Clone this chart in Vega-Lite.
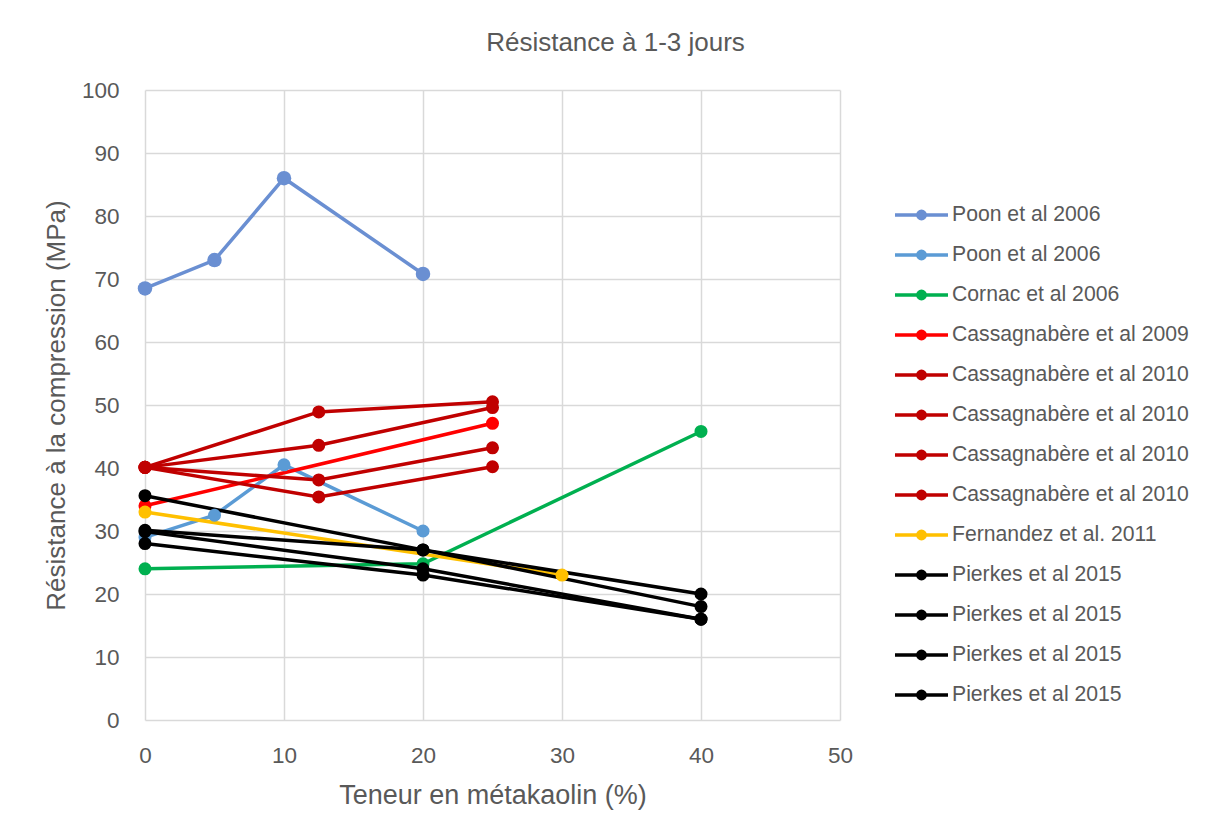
{
  "$schema": "https://vega.github.io/schema/vega-lite/v6.json",
  "width": 695,
  "height": 630,
  "autosize": "none",
  "padding": {"left": 145, "top": 90, "right": 372, "bottom": 116},
  "background": "white",
  "title": {
    "text": "Résistance à 1-3 jours",
    "font": "Liberation Sans",
    "fontSize": 26,
    "fontWeight": "normal",
    "color": "#595959",
    "anchor": "middle",
    "dx": 123,
    "offset": 23
  },
  "data": {
    "values": [
      {"s": "01 Poon et al 2006", "x": 0, "y": 68.5},
      {"s": "01 Poon et al 2006", "x": 5, "y": 73},
      {"s": "01 Poon et al 2006", "x": 10, "y": 86},
      {"s": "01 Poon et al 2006", "x": 20, "y": 70.8},
      {"s": "02 Poon et al 2006", "x": 0, "y": 29},
      {"s": "02 Poon et al 2006", "x": 5, "y": 32.5},
      {"s": "02 Poon et al 2006", "x": 10, "y": 40.5},
      {"s": "02 Poon et al 2006", "x": 20, "y": 30},
      {"s": "03 Cornac et al 2006", "x": 0, "y": 24},
      {"s": "03 Cornac et al 2006", "x": 20, "y": 24.8},
      {"s": "03 Cornac et al 2006", "x": 40, "y": 45.8},
      {"s": "04 Cassagnabère et al 2009", "x": 0, "y": 34},
      {"s": "04 Cassagnabère et al 2009", "x": 25, "y": 47.1},
      {"s": "05 Cassagnabère et al 2010", "x": 0, "y": 40.1},
      {"s": "05 Cassagnabère et al 2010", "x": 12.5, "y": 48.9},
      {"s": "05 Cassagnabère et al 2010", "x": 25, "y": 50.5},
      {"s": "06 Cassagnabère et al 2010", "x": 0, "y": 40.1},
      {"s": "06 Cassagnabère et al 2010", "x": 12.5, "y": 43.6},
      {"s": "06 Cassagnabère et al 2010", "x": 25, "y": 49.6},
      {"s": "07 Cassagnabère et al 2010", "x": 0, "y": 40.1},
      {"s": "07 Cassagnabère et al 2010", "x": 12.5, "y": 38.1},
      {"s": "07 Cassagnabère et al 2010", "x": 25, "y": 43.2},
      {"s": "08 Cassagnabère et al 2010", "x": 0, "y": 40.1},
      {"s": "08 Cassagnabère et al 2010", "x": 12.5, "y": 35.4},
      {"s": "08 Cassagnabère et al 2010", "x": 25, "y": 40.2},
      {"s": "09 Fernandez et al. 2011", "x": 0, "y": 33},
      {"s": "09 Fernandez et al. 2011", "x": 30, "y": 23},
      {"s": "10 Pierkes et al 2015", "x": 0, "y": 35.6},
      {"s": "10 Pierkes et al 2015", "x": 20, "y": 27},
      {"s": "10 Pierkes et al 2015", "x": 40, "y": 20},
      {"s": "11 Pierkes et al 2015", "x": 0, "y": 30.1},
      {"s": "11 Pierkes et al 2015", "x": 20, "y": 27},
      {"s": "11 Pierkes et al 2015", "x": 40, "y": 18},
      {"s": "12 Pierkes et al 2015", "x": 0, "y": 29.9},
      {"s": "12 Pierkes et al 2015", "x": 20, "y": 24},
      {"s": "12 Pierkes et al 2015", "x": 40, "y": 16},
      {"s": "13 Pierkes et al 2015", "x": 0, "y": 28},
      {"s": "13 Pierkes et al 2015", "x": 20, "y": 23},
      {"s": "13 Pierkes et al 2015", "x": 40, "y": 16}
    ]
  },
  "encoding": {
    "x": {
      "field": "x",
      "type": "quantitative",
      "scale": {"domain": [0, 50], "nice": false},
      "axis": {
        "title": "Teneur en métakaolin (%)",
        "values": [0, 10, 20, 30, 40, 50],
        "ticks": false,
        "domain": false,
        "labelFlush": false,
        "labelPadding": 24,
        "titlePadding": 16,
        "titleFontSize": 27
      }
    },
    "y": {
      "field": "y",
      "type": "quantitative",
      "scale": {"domain": [0, 100], "nice": false},
      "axis": {
        "title": "Résistance à la compression (MPa)",
        "values": [0, 10, 20, 30, 40, 50, 60, 70, 80, 90, 100],
        "ticks": false,
        "domain": false,
        "labelFlush": false,
        "labelPadding": 26,
        "titlePadding": 12,
        "titleFontSize": 26
      }
    },
    "color": {
      "field": "s",
      "type": "nominal",
      "scale": {
        "domain": [
          "01 Poon et al 2006", "02 Poon et al 2006", "03 Cornac et al 2006",
          "04 Cassagnabère et al 2009", "05 Cassagnabère et al 2010", "06 Cassagnabère et al 2010",
          "07 Cassagnabère et al 2010", "08 Cassagnabère et al 2010", "09 Fernandez et al. 2011",
          "10 Pierkes et al 2015", "11 Pierkes et al 2015", "12 Pierkes et al 2015", "13 Pierkes et al 2015"
        ],
        "range": [
          "#6A8FD2", "#5B9BD5", "#00B050", "#FF0000", "#C00000", "#C00000", "#C00000", "#C00000",
          "#FFC000", "#000000", "#000000", "#000000", "#000000"
        ]
      },
      "legend": {
        "title": null,
        "orient": "none",
        "legendX": 748,
        "legendY": 96.5,
        "padding": 0,
        "labelExpr": "slice(datum.label, 3)",
        "symbolType": "M-1,0L1,0M0.14,0A0.14,0.14,0,1,1,-0.14,0A0.14,0.14,0,1,1,0.14,0M0.06,0A0.06,0.06,0,1,1,-0.06,0A0.06,0.06,0,1,1,0.06,0",
        "symbolSize": 2809,
        "symbolStrokeWidth": 3.5,
        "symbolOffset": 0,
        "labelOffset": 2,
        "rowPadding": -0.5,
        "labelFont": "Liberation Sans",
        "labelFontSize": 21.2,
        "labelColor": "#595959",
        "labelLimit": 400
      }
    }
  },
  "layer": [
    {"mark": {"type": "line", "strokeWidth": 3.5}},
    {
      "mark": {"type": "point", "filled": true, "opacity": 1, "shape": "circle"},
      "encoding": {
        "size": {"condition": {"test": "datum.s === '01 Poon et al 2006'", "value": 210}, "value": 170}
      }
    }
  ],
  "config": {
    "view": {"stroke": null},
    "axis": {
      "gridColor": "#d9d9d9",
      "gridWidth": 1.5,
      "labelFont": "Liberation Sans",
      "labelFontSize": 22.5,
      "labelColor": "#595959",
      "titleFont": "Liberation Sans",
      "titleFontWeight": "normal",
      "titleColor": "#595959"
    }
  }
}
